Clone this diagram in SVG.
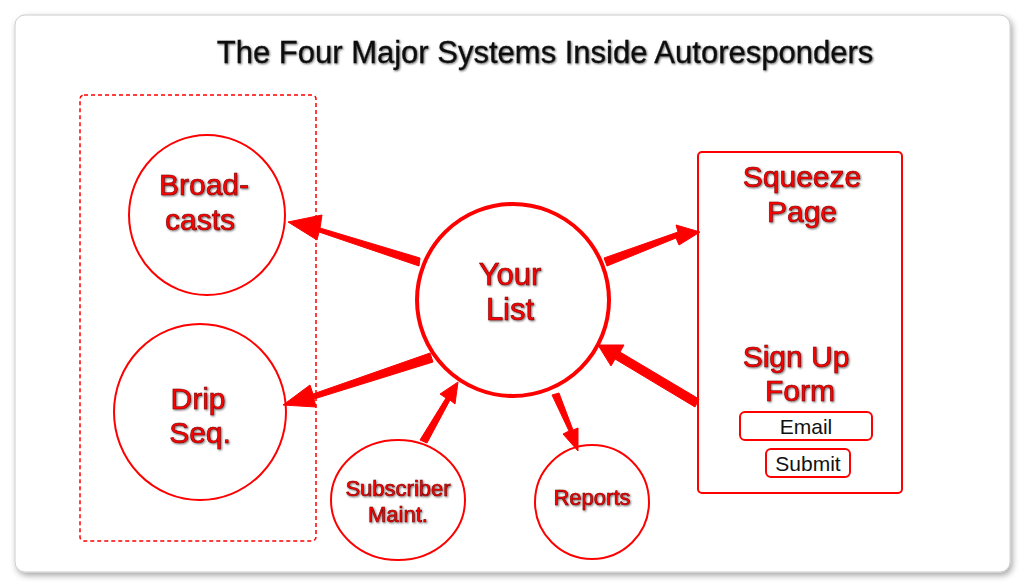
<svg xmlns="http://www.w3.org/2000/svg" width="1024" height="585" viewBox="0 0 1024 585">
<defs>
<filter id="sh" x="-10%" y="-10%" width="120%" height="120%"><feDropShadow dx="2" dy="3" stdDeviation="3" flood-color="#000" flood-opacity="0.35"/></filter>
<filter id="ts" x="-10%" y="-20%" width="120%" height="140%"><feDropShadow dx="1" dy="1" stdDeviation="0.8" flood-color="#000" flood-opacity="0.6"/></filter>
</defs>
<style>
.n{fill:#fff;stroke:#f00;stroke-width:2}
.t{font-family:"Liberation Sans",Arial,sans-serif;fill:#f00;stroke:#700;stroke-width:0.6;text-anchor:middle;filter:url(#ts)}
.a{fill:#f00;stroke:#f00;stroke-width:1}
</style>
<rect x="0" y="0" width="1024" height="585" fill="#fff"/>
<rect x="15" y="15" width="995" height="557" rx="10" fill="#fff" stroke="#ccc" filter="url(#sh)"/>
<text x="545" y="63" font-family="Liberation Sans,Arial,sans-serif" font-size="31" text-anchor="middle" fill="#111" stroke="#111" stroke-width="0.3" filter="url(#ts)">The Four Major Systems Inside Autoresponders</text>
<rect x="80" y="95" width="236" height="446" rx="4" fill="none" stroke="#f00" stroke-width="1.5" stroke-dasharray="4,3"/>
<g id="broadcasts"><ellipse class="n" cx="207" cy="215" rx="78" ry="80"/><text class="t" font-size="30" x="204" y="195">Broad-</text><text class="t" font-size="30" x="200" y="230">casts</text></g>
<g id="drip"><ellipse class="n" cx="200" cy="412" rx="86" ry="88"/><text class="t" font-size="30" x="198" y="409">Drip</text><text class="t" font-size="30" x="200" y="443">Seq.</text></g>
<g id="list"><circle cx="513" cy="300" r="96" fill="#fff" stroke="#f00" stroke-width="4"/><text class="t" font-size="31" x="510" y="285">Your</text><text class="t" font-size="31" x="510" y="320">List</text></g>
<g id="subscriber"><ellipse class="n" cx="398" cy="500" rx="67" ry="60"/><text class="t" font-size="22" x="398" y="496">Subscriber</text><text class="t" font-size="22" x="398" y="522">Maint.</text></g>
<g id="reports"><circle class="n" cx="592" cy="502" r="57"/><text class="t" font-size="22" x="592" y="505">Reports</text></g>
<g id="squeeze"><rect class="n" x="698" y="152" width="204" height="341" rx="4"/>
<text class="t" font-size="30" x="802" y="187">Squeeze</text><text class="t" font-size="30" x="802" y="222">Page</text>
<text class="t" font-size="30" x="796" y="367">Sign Up</text><text class="t" font-size="30" x="800" y="401">Form</text>
<rect x="740" y="412" width="132" height="28" rx="5" fill="#fff" stroke="#f00" stroke-width="2"/>
<text x="806" y="434" font-family="Liberation Sans,Arial,sans-serif" font-size="21" text-anchor="middle" fill="#111">Email</text>
<rect x="766" y="449" width="84" height="28" rx="5" fill="#fff" stroke="#f00" stroke-width="2"/>
<text x="808" y="471" font-family="Liberation Sans,Arial,sans-serif" font-size="21" text-anchor="middle" fill="#111">Submit</text></g>
<g id="connectors">
<polygon class="a" points="420,258 320,228 322,215 288,222 317,240 319,232 419,266"/>
<polygon class="a" points="430,353 313,394 310,385 283,405 316,407 314,399 433,362"/>
<polygon class="a" points="420,440 446,398 440,394 458,382 455,404 450,400 427,443"/>
<polygon class="a" points="552,395 569,431 563,434 578,451 578,428 573,430 559,393"/>
<polygon class="a" points="607,266 676,238 679,245 700,232 676,225 678,232 604,258"/>
<polygon class="a" points="699,399 620,352 624,345 598,345 611,366 615,359 695,407"/>
</g>
</svg>
